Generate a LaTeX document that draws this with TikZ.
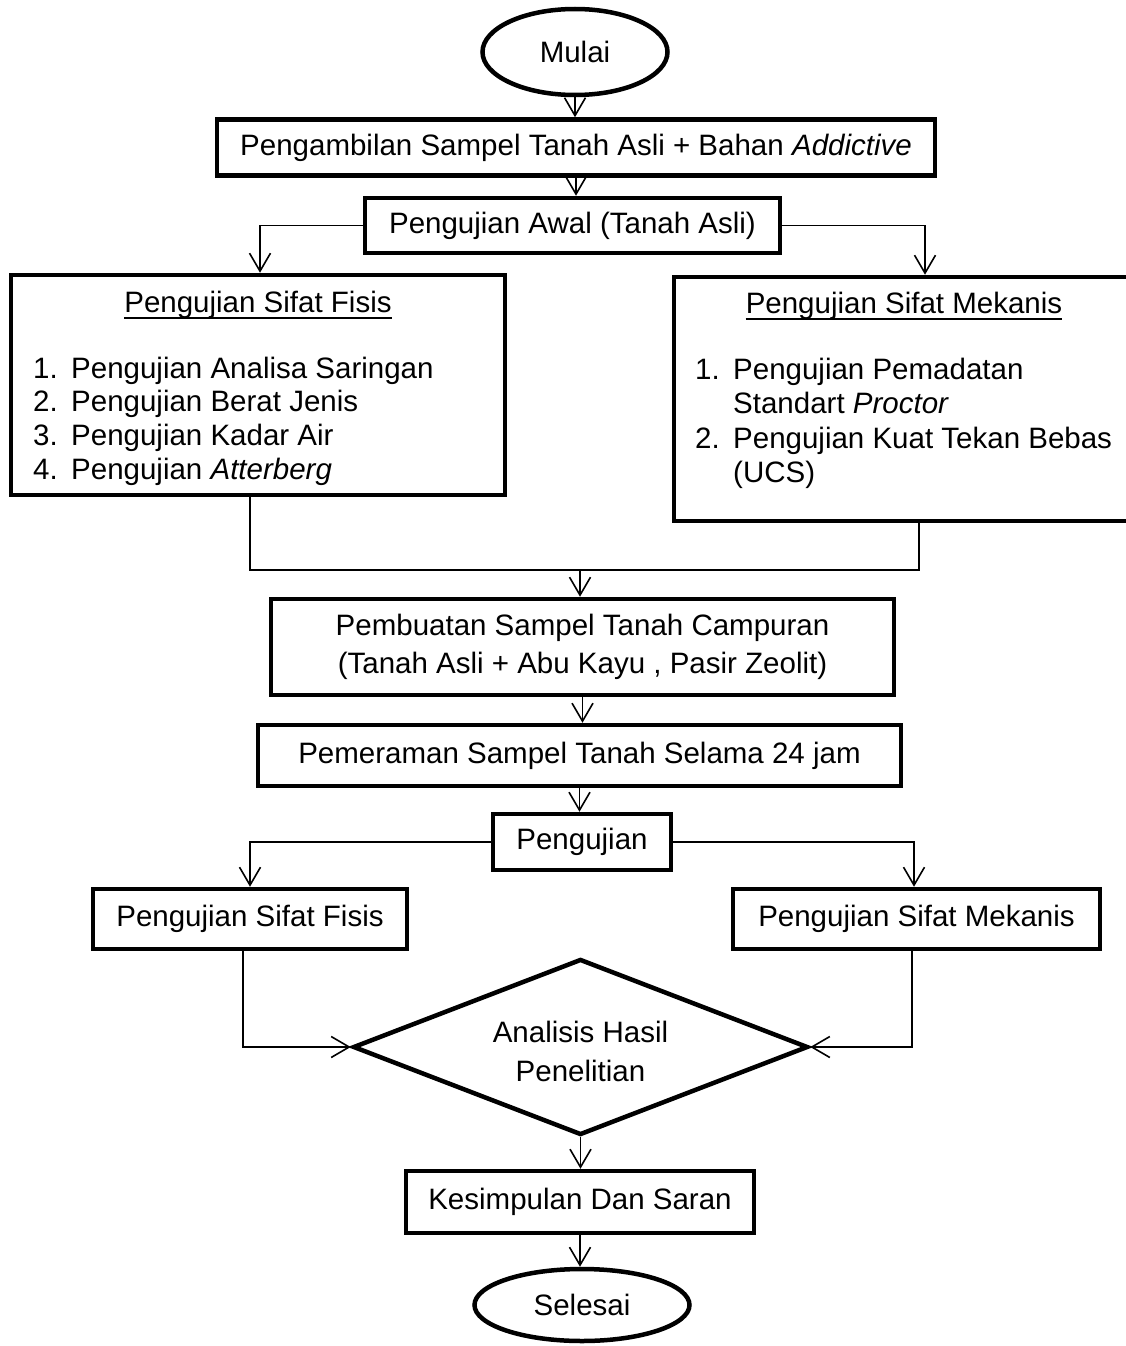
\documentclass[tikz,border=0pt]{standalone}
\usepackage{fontspec}
\setmainfont{Liberation Sans}
\usetikzlibrary{arrows.meta,shapes.geometric,calc}
\newcommand\fsz{\fontsize{29.5}{34}\selectfont}
\newcommand\fszb{\fontsize{29.5}{38}\selectfont}
\begin{document}
\begin{tikzpicture}[x=1pt,y=-1pt,
  box/.style={draw, line width=4.5pt, rectangle, inner sep=0pt, align=center, font=\fsz},
  term/.style={draw, line width=4.5pt, ellipse, inner sep=0pt, font=\fsz},
  txt/.style={inner sep=0pt, font=\fsz},
  arr/.style={line width=1.6pt, -{Straight Barb[length=18pt,width=21pt]}},
  ln/.style={line width=1.6pt}]
\clip (0,0) rectangle (1126,1346);
\fill[white] (0,0) rectangle (1126,1346);

% nodes
\node[term, minimum width=185pt, minimum height=86pt] (mulai) at (575,52) {Mulai};
\node[box, minimum width=718pt, minimum height=56pt] (b1) at (576,147.5) {Pengambilan Sampel Tanah Asli + Bahan \textit{Addictive}};
\node[box, minimum width=415pt, minimum height=55pt] (b2) at (572.5,225.5) {Pengujian Awal (Tanah Asli)};
\node[box, minimum width=494pt, minimum height=220pt] (fisis) at (258,385) {};
\node[box, minimum width=460pt, minimum height=244pt] (mek) at (904,399) {};

% left big box text
\node[txt, anchor=base] (tf) at (258,312) {Pengujian Sifat Fisis};
\draw[line width=1.6pt] ($(tf.base west)+(0,6)$) -- ($(tf.base east)+(0,6)$);
\node[txt, anchor=base west] (f1) at (33,378) {\makebox[38pt][l]{1.}Pengujian Analisa Saringan};
\node[txt, anchor=base west] (f2) at (33,411.7) {\makebox[38pt][l]{2.}Pengujian Berat Jenis};
\node[txt, anchor=base west] (f3) at (33,445.4) {\makebox[38pt][l]{3.}Pengujian Kadar Air};
\node[txt, anchor=base west] (f4) at (33,479) {\makebox[38pt][l]{4.}Pengujian \textit{Atterberg}};

% right big box text
\node[txt, anchor=base] (tm) at (904,313) {Pengujian Sifat Mekanis};
\draw[line width=1.6pt] ($(tm.base west)+(0,6)$) -- ($(tm.base east)+(0,6)$);
\node[txt, anchor=base west] (m1) at (695,379) {\makebox[38pt][l]{1.}Pengujian Pemadatan};
\node[txt, anchor=base west] (m2) at (733,413.5) {Standart \textit{Proctor}};
\node[txt, anchor=base west] (m3) at (695,448) {\makebox[38pt][l]{2.}Pengujian Kuat Tekan Bebas};
\node[txt, anchor=base west] (m4) at (733,482.5) {(UCS)};

\node[box, font=\fszb, minimum width=623pt, minimum height=96pt] (b3) at (582.5,647) {Pembuatan Sampel Tanah Campuran\\(Tanah Asli + Abu Kayu , Pasir Zeolit)};
\node[box, minimum width=643pt, minimum height=61pt] (b4) at (579.5,755.5) {Pemeraman Sampel Tanah Selama 24 jam};
\node[box, minimum width=178pt, minimum height=56pt] (b5) at (582,842) {Pengujian};
\node[box, minimum width=314pt, minimum height=60pt] (b6) at (250,919) {Pengujian Sifat Fisis};
\node[box, minimum width=367pt, minimum height=60pt] (b7) at (916.5,919) {Pengujian Sifat Mekanis};
\node[draw, line width=4.5pt, diamond, inner sep=0pt, minimum width=455pt, minimum height=176pt] (dia) at (580.5,1047) {};
\node[txt, anchor=base] (d1) at (580.5,1042) {Analisis Hasil};
\begin{scope}
\clip (400,1040) rectangle (760,1081.5);
\node[txt, anchor=base] (d2) at (580.5,1081) {Penelitian};
\end{scope}
\node[box, minimum width=348pt, minimum height=62pt] (b8) at (580,1202) {Kesimpulan Dan Saran};
\node[term, minimum width=215pt, minimum height=72pt] (sel) at (582,1305) {Selesai};

% helper coordinates
\coordinate (cl) at (260,0);
\coordinate (cr) at (925,0);
\coordinate (jl) at (250,570);
\coordinate (jr) at (919,570);
\coordinate (jm) at (580,570);
\coordinate (dr) at (914,0);
\coordinate (el) at (243,1047);
\coordinate (er) at (912,1047);

% connectors
\draw[arr] (mulai.south) -- (mulai.south |- b1.north);
\draw[arr] (b1.south) -- (b1.south |- b2.north);
\draw[arr] (b2.west) -| (cl |- fisis.north);
\draw[arr] (b2.east) -| (cr |- mek.north);
\draw[ln] (jl |- fisis.south) -- (jl) -- (jr) -- (jr |- mek.south);
\draw[arr] (jm) -- (jm |- b3.north);
\draw[arr] (b3.south) -- (b3.south |- b4.north);
\draw[arr] (b4.south) -- (b4.south |- b5.north);
\draw[arr] (b5.west) -| (b6.north);
\draw[arr] (b5.east) -| (dr |- b7.north);
\draw[arr] (el |- b6.south) -- (el) -- (dia.west);
\draw[arr] (er |- b7.south) -- (er) -- (dia.east);
\draw[arr] (dia.south) -- (dia.south |- b8.north);
\draw[arr] (b8.south) -- (b8.south |- sel.north);
\end{tikzpicture}
\end{document}
